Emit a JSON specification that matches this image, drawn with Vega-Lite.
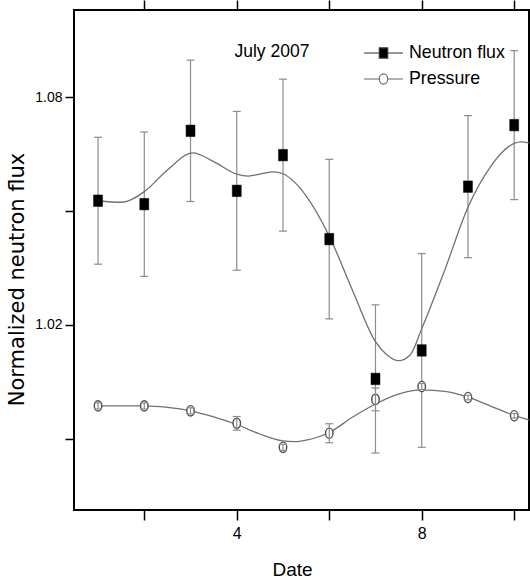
{
  "$schema": "https://vega.github.io/schema/vega-lite/v6.json",
  "width": 455,
  "height": 500,
  "autosize": "none",
  "padding": {"left": 74, "top": 10, "right": 1, "bottom": 70},
  "background": "white",
  "config": {
    "view": {"stroke": "black", "strokeWidth": 2},
    "font": "Liberation Sans, Arial, sans-serif"
  },
  "datasets": {
    "pts": [
      {"date": 1, "series": "Neutron flux", "value": 1.0527, "lo": 1.0360, "hi": 1.0694},
      {"date": 2, "series": "Neutron flux", "value": 1.0518, "lo": 1.0328, "hi": 1.0708},
      {"date": 3, "series": "Neutron flux", "value": 1.0711, "lo": 1.0525, "hi": 1.0897},
      {"date": 4, "series": "Neutron flux", "value": 1.0553, "lo": 1.0344, "hi": 1.0762},
      {"date": 5, "series": "Neutron flux", "value": 1.0647, "lo": 1.0447, "hi": 1.0847},
      {"date": 6, "series": "Neutron flux", "value": 1.0426, "lo": 1.0216, "hi": 1.0636},
      {"date": 7, "series": "Neutron flux", "value": 1.0058, "lo": 0.9863, "hi": 1.0253},
      {"date": 8, "series": "Neutron flux", "value": 1.0133, "lo": 0.9878, "hi": 1.0388},
      {"date": 9, "series": "Neutron flux", "value": 1.0564, "lo": 1.0377, "hi": 1.0751},
      {"date": 10, "series": "Neutron flux", "value": 1.0726, "lo": 1.0530, "hi": 1.0922},
      {"date": 1, "series": "Pressure", "value": 0.9987, "lo": 0.9979, "hi": 0.9995},
      {"date": 2, "series": "Pressure", "value": 0.9987, "lo": 0.9979, "hi": 0.9995},
      {"date": 3, "series": "Pressure", "value": 0.9974, "lo": 0.9966, "hi": 0.9982},
      {"date": 4, "series": "Pressure", "value": 0.9941, "lo": 0.9923, "hi": 0.9959},
      {"date": 5, "series": "Pressure", "value": 0.9878, "lo": 0.9870, "hi": 0.9886},
      {"date": 6, "series": "Pressure", "value": 0.9915, "lo": 0.9890, "hi": 0.9940},
      {"date": 7, "series": "Pressure", "value": 1.0004, "lo": 0.9974, "hi": 1.0034},
      {"date": 8, "series": "Pressure", "value": 1.0038, "lo": 1.0030, "hi": 1.0046},
      {"date": 9, "series": "Pressure", "value": 1.0009, "lo": 1.0003, "hi": 1.0015},
      {"date": 10, "series": "Pressure", "value": 0.9961, "lo": 0.9955, "hi": 0.9967}
    ],
    "fit": [
      {"date": 1.0, "series": "Neutron flux", "value": 1.0527},
      {"date": 1.5, "series": "Neutron flux", "value": 1.0523},
      {"date": 2.0, "series": "Neutron flux", "value": 1.0551},
      {"date": 2.5, "series": "Neutron flux", "value": 1.0608},
      {"date": 3.05, "series": "Neutron flux", "value": 1.0653},
      {"date": 3.5, "series": "Neutron flux", "value": 1.0630},
      {"date": 4.0, "series": "Neutron flux", "value": 1.0597},
      {"date": 4.25, "series": "Neutron flux", "value": 1.0592},
      {"date": 4.5, "series": "Neutron flux", "value": 1.0597},
      {"date": 4.8, "series": "Neutron flux", "value": 1.0603},
      {"date": 5.0, "series": "Neutron flux", "value": 1.0598},
      {"date": 5.25, "series": "Neutron flux", "value": 1.0576},
      {"date": 5.5, "series": "Neutron flux", "value": 1.0540},
      {"date": 6.0, "series": "Neutron flux", "value": 1.0434},
      {"date": 6.5, "series": "Neutron flux", "value": 1.0292},
      {"date": 7.0, "series": "Neutron flux", "value": 1.0156},
      {"date": 7.25, "series": "Neutron flux", "value": 1.0121},
      {"date": 7.5, "series": "Neutron flux", "value": 1.0106},
      {"date": 7.75, "series": "Neutron flux", "value": 1.0121},
      {"date": 8.0, "series": "Neutron flux", "value": 1.0190},
      {"date": 8.5, "series": "Neutron flux", "value": 1.0345},
      {"date": 9.0, "series": "Neutron flux", "value": 1.0510},
      {"date": 9.5, "series": "Neutron flux", "value": 1.0619},
      {"date": 9.75, "series": "Neutron flux", "value": 1.0656},
      {"date": 10.0, "series": "Neutron flux", "value": 1.0678},
      {"date": 10.15, "series": "Neutron flux", "value": 1.0682},
      {"date": 10.32, "series": "Neutron flux", "value": 1.0679},
      {"date": 1.0, "series": "Pressure", "value": 0.9987},
      {"date": 1.5, "series": "Pressure", "value": 0.9987},
      {"date": 2.0, "series": "Pressure", "value": 0.9987},
      {"date": 2.5, "series": "Pressure", "value": 0.9983},
      {"date": 3.0, "series": "Pressure", "value": 0.9974},
      {"date": 3.5, "series": "Pressure", "value": 0.9958},
      {"date": 4.0, "series": "Pressure", "value": 0.9938},
      {"date": 4.5, "series": "Pressure", "value": 0.9913},
      {"date": 5.0, "series": "Pressure", "value": 0.9895},
      {"date": 5.25, "series": "Pressure", "value": 0.9893},
      {"date": 5.5, "series": "Pressure", "value": 0.9897},
      {"date": 6.0, "series": "Pressure", "value": 0.9917},
      {"date": 6.5, "series": "Pressure", "value": 0.9957},
      {"date": 7.0, "series": "Pressure", "value": 0.9992},
      {"date": 7.5, "series": "Pressure", "value": 1.0018},
      {"date": 8.0, "series": "Pressure", "value": 1.0029},
      {"date": 8.5, "series": "Pressure", "value": 1.0025},
      {"date": 9.0, "series": "Pressure", "value": 1.0010},
      {"date": 9.5, "series": "Pressure", "value": 0.9986},
      {"date": 10.0, "series": "Pressure", "value": 0.9962},
      {"date": 10.32, "series": "Pressure", "value": 0.9950}
    ]
  },
  "resolve": {"axis": {"x": "independent", "y": "independent"}},
  "layer": [
    {
      "data": {"name": "pts"},
      "transform": [{"filter": "datum.series == 'Neutron flux'"}],
      "mark": {"type": "rule", "color": "#8c8c8c", "strokeWidth": 1.2},
      "encoding": {
        "x": {
          "field": "date", "type": "quantitative",
          "scale": {"domain": [0.48, 10.32], "nice": false, "zero": false},
          "axis": {
            "orient": "bottom", "values": [2, 4, 6, 8, 10],
            "tickSize": 10, "tickWidth": 1.5, "tickColor": "black",
            "domain": false, "grid": false,
            "labelExpr": "datum.value % 4 == 0 ? datum.label : ''",
            "labelFont": "Liberation Sans, Arial, sans-serif",
            "labelFontSize": 16, "labelColor": "black", "labelPadding": 5,
            "labelFlush": false, "labelOverlap": false,
            "title": "Date",
            "titleFont": "Liberation Sans, Arial, sans-serif",
            "titleFontSize": 19, "titleFontWeight": "normal", "titleColor": "black",
            "titleX": 218, "titleY": 65, "titleBaseline": "alphabetic", "titleAlign": "center",
            "encode": {"ticks": {"update": {"y2": {"signal": "datum.value % 4 == 0 ? 10 : 4"}}}}
          }
        },
        "y": {
          "field": "lo", "type": "quantitative",
          "scale": {"domain": [0.9713, 1.1029], "nice": false, "zero": false},
          "axis": {
            "orient": "left", "values": [0.99, 1.02, 1.05, 1.08],
            "tickSize": 9, "tickWidth": 1.5, "tickColor": "black",
            "domain": false, "grid": false,
            "labelExpr": "abs(datum.value-1.02)<0.001 || abs(datum.value-1.08)<0.001 ? format(datum.value, '.2f') : ''",
            "labelFont": "Liberation Sans, Arial, sans-serif",
            "labelFontSize": 14, "labelColor": "black", "labelPadding": 3, "labelOverlap": false,
            "title": "Normalized neutron flux",
            "titleFont": "DejaVu Sans", "titleFontSize": 21, "titleFontWeight": "normal", "titleColor": "black",
            "titleX": -51, "titleY": 269, "titleAngle": -90, "titleBaseline": "alphabetic", "titleAlign": "center",
            "encode": {"ticks": {"update": {"x2": {"signal": "abs(datum.value-1.02)<0.001 || abs(datum.value-1.08)<0.001 ? -9 : -4"}}}}
          }
        },
        "y2": {"field": "hi"}
      }
    },
    {
      "data": {"name": "pts"},
      "transform": [{"filter": "datum.series == 'Neutron flux'"}],
      "mark": {"type": "tick", "orient": "horizontal", "color": "#8c8c8c", "size": 8, "thickness": 1.2, "opacity": 1},
      "encoding": {
        "x": {"field": "date", "type": "quantitative", "axis": null},
        "y": {"field": "lo", "type": "quantitative", "axis": null}
      }
    },
    {
      "data": {"name": "pts"},
      "transform": [{"filter": "datum.series == 'Neutron flux'"}],
      "mark": {"type": "tick", "orient": "horizontal", "color": "#8c8c8c", "size": 8, "thickness": 1.2, "opacity": 1},
      "encoding": {
        "x": {"field": "date", "type": "quantitative", "axis": null},
        "y": {"field": "hi", "type": "quantitative", "axis": null}
      }
    },
    {
      "data": {"name": "fit"},
      "mark": {"type": "line", "color": "#707070", "strokeWidth": 1.3, "interpolate": "monotone"},
      "encoding": {
        "x": {
          "field": "date", "type": "quantitative",
          "axis": {
            "orient": "top", "values": [2, 4, 6, 8, 10],
            "tickSize": 10, "tickWidth": 1.5, "tickColor": "black",
            "domain": false, "grid": false, "labels": false, "title": null,
            "encode": {"ticks": {"update": {"y2": {"signal": "datum.value % 4 == 0 ? 10 : 5"}}}}
          }
        },
        "y": {
          "field": "value", "type": "quantitative",
          "axis": {
            "orient": "right", "values": [0.99, 1.02, 1.05, 1.08],
            "tickSize": 7, "tickWidth": 1.5, "tickColor": "black",
            "domain": false, "grid": false, "labels": false, "title": null,
            "encode": {"ticks": {"update": {"x2": {"signal": "abs(datum.value-1.02)<0.001 || abs(datum.value-1.08)<0.001 ? -7 : -4"}}}}
          }
        },
        "detail": {"field": "series", "type": "nominal"}
      }
    },
    {
      "data": {"values": [{"note": "July 2007"}]},
      "mark": {"type": "text", "align": "center", "baseline": "alphabetic", "font": "Liberation Sans, Arial, sans-serif", "fontSize": 17.5, "color": "black"},
      "encoding": {
        "x": {"datum": 4.76, "type": "quantitative", "axis": null},
        "y": {"datum": 1.0905, "type": "quantitative", "axis": null},
        "text": {"field": "note"}
      }
    },
    {
      "data": {"name": "pts"},
      "transform": [{"filter": "datum.series == 'Pressure'"}],
      "mark": {"type": "point", "shape": "M0.65,0A0.65,0.9 0 1,1 -0.65,0A0.65,0.9 0 1,1 0.65,0Z", "size": 132, "filled": false, "fill": "white", "stroke": "#4d4d4d", "strokeWidth": 1.4, "opacity": 1},
      "encoding": {
        "x": {"field": "date", "type": "quantitative", "axis": null},
        "y": {"field": "value", "type": "quantitative", "axis": null}
      }
    },
    {
      "data": {"name": "pts"},
      "transform": [{"filter": "datum.series == 'Pressure'"}],
      "mark": {"type": "rule", "color": "#8c8c8c", "strokeWidth": 1.2},
      "encoding": {
        "x": {"field": "date", "type": "quantitative", "axis": null},
        "y": {"field": "lo", "type": "quantitative", "axis": null},
        "y2": {"field": "hi"}
      }
    },
    {
      "data": {"name": "pts"},
      "transform": [{"filter": "datum.series == 'Pressure'"}],
      "mark": {"type": "tick", "orient": "horizontal", "color": "#8c8c8c", "size": 8, "thickness": 1.2, "opacity": 1},
      "encoding": {
        "x": {"field": "date", "type": "quantitative", "axis": null},
        "y": {"field": "lo", "type": "quantitative", "axis": null}
      }
    },
    {
      "data": {"name": "pts"},
      "transform": [{"filter": "datum.series == 'Pressure'"}],
      "mark": {"type": "tick", "orient": "horizontal", "color": "#8c8c8c", "size": 8, "thickness": 1.2, "opacity": 1},
      "encoding": {
        "x": {"field": "date", "type": "quantitative", "axis": null},
        "y": {"field": "hi", "type": "quantitative", "axis": null}
      }
    },
    {
      "data": {"name": "pts"},
      "transform": [{"filter": "datum.series == 'Neutron flux'"}],
      "mark": {"type": "point", "shape": "M-0.78,-1H0.78V1H-0.78Z", "size": 132, "filled": true, "fill": "black", "stroke": "black", "strokeWidth": 0.5, "opacity": 1},
      "encoding": {
        "x": {"field": "date", "type": "quantitative", "axis": null},
        "y": {"field": "value", "type": "quantitative", "axis": null}
      }
    },
    {
      "data": {"name": "pts"},
      "transform": [{"filter": "false"}],
      "mark": {"type": "point", "filled": true, "opacity": 1, "strokeWidth": 1.2},
      "encoding": {
        "shape": {
          "field": "series", "type": "nominal",
          "scale": {"domain": ["Neutron flux", "Pressure"], "range": ["M-1.39,0H-0.3M0.3,0H1.39M-0.3,-0.36H0.3V0.36H-0.3Z", "M-1.39,0H-0.3M0.3,0H1.39M0.3,0A0.3,0.36 0 1,1 -0.3,0A0.3,0.36 0 1,1 0.3,0Z"]},
          "legend": {"title": null, "orient": "none", "legendX": 294.5, "legendY": 28, "symbolSize": 784, "symbolStrokeWidth": 1.2, "symbolOpacity": 1, "labelFont": "Liberation Sans, Arial, sans-serif", "labelFontSize": 17.8, "labelColor": "black", "labelOffset": 10.5, "rowPadding": 2, "padding": 0, "labelLimit": 300}
        },
        "fill": {
          "field": "series", "type": "nominal",
          "scale": {"domain": ["Neutron flux", "Pressure"], "range": ["black", "white"]},
          "legend": {"title": null, "orient": "none", "legendX": 294.5, "legendY": 28, "symbolSize": 784, "symbolStrokeWidth": 1.2, "symbolOpacity": 1, "labelFont": "Liberation Sans, Arial, sans-serif", "labelFontSize": 17.8, "labelColor": "black", "labelOffset": 10.5, "rowPadding": 2, "padding": 0, "labelLimit": 300}
        },
        "stroke": {
          "field": "series", "type": "nominal",
          "scale": {"domain": ["Neutron flux", "Pressure"], "range": ["#333333", "#666666"]},
          "legend": {"title": null, "orient": "none", "legendX": 294.5, "legendY": 28, "symbolSize": 784, "symbolStrokeWidth": 1.2, "symbolOpacity": 1, "labelFont": "Liberation Sans, Arial, sans-serif", "labelFontSize": 17.8, "labelColor": "black", "labelOffset": 10.5, "rowPadding": 2, "padding": 0, "labelLimit": 300}
        }
      }
    }
  ]
}
